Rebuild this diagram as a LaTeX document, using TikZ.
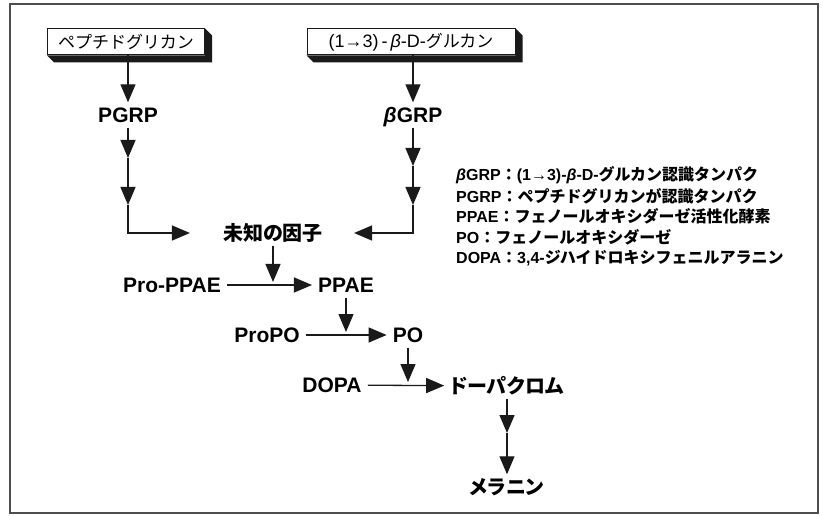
\documentclass[tikz,border=0pt]{standalone}
\usepackage{fontspec}
\setmainfont{Liberation Sans}
\newfontfamily\jp{Noto Sans CJK JP}
\newfontfamily\jpp{Noto Sans CJK JP}[RawFeature={+palt}]
\usepackage{tikz}
\usetikzlibrary{arrows.meta,positioning,calc}
\definecolor{ink}{HTML}{1A1A1A}
\definecolor{rim}{HTML}{4D4D4D}
\tikzset{
  srcbox/.style = {draw=ink,line width=1pt,fill=white,minimum height=26pt,
                   inner sep=0pt,font=\fontsize{17}{20}\selectfont},
  lbl/.style    = {inner xsep=6pt,inner ysep=5pt,text height=15pt,
                   text depth=0pt,font=\fontsize{21}{24}\selectfont\bfseries},
  jlbl/.style   = {lbl,font=\jpp\fontsize{20}{24}\selectfont\bfseries},
  keyline/.style= {anchor=west,inner sep=0pt,
                   font=\fontsize{16}{20}\selectfont\bfseries},
  arr/.style    = {-{Triangle[length=18pt,width=15pt]},line width=1.3pt,
                   draw=ink},
}

\begin{document}
\begin{tikzpicture}[x=1pt,y=-1pt]
  \useasboundingbox (0,0) rectangle (823,516);
  \draw[rim,line width=1.2pt] (10,4) rectangle (818,513);
  % Source boxes with block shadow
  \node[srcbox,minimum width=157pt] (pgbox) at (126,42)
        {\jp ペプチドグリカン};
  \node[srcbox,minimum width=208pt] (glbox) at (411,42)
        {\fontsize{18}{20}\selectfont(1→3)\,-\,\textit{β}-D-{\jp\fontsize{17}{20}\selectfont グルカン}};
  \foreach \b in {pgbox,glbox}{
    \fill[ink] (\b.north east) -- ++(7,7) -- ($(\b.south east)+(7,7)$)
               -- ($(\b.south west)+(7,7)$) -- (\b.south west)
               -- (\b.south east) -- cycle;
  }
  % Recognition proteins
  \node[lbl] (pgrp) at (128,115) {PGRP};
  \node[lbl] (bgrp) at (413,115) {\textit{β}GRP};
  \node[jlbl] (unk) at (273,233) {未知の因子};
  \coordinate (pgA) at (128,158);
  \coordinate (pgB) at (128,205);
  \coordinate (bgA) at (413,166);
  \coordinate (bgB) at (413,205);
  \draw[arr] (pgrp |- pgbox.south) -- (pgrp);
  \draw[arr] (bgrp |- glbox.south) -- (bgrp);
  \draw[arr] (pgrp) -- (pgA);
  \draw[arr] (pgA) -- (pgB);
  \draw[arr,shorten >=27pt] (pgB) |- (unk);
  \draw[arr] (bgrp) -- (bgA);
  \draw[arr] (bgA) -- (bgB);
  \draw[arr,shorten >=25pt] (bgB) |- (unk);
  % Cascade
  \node[lbl] (proppae) at (172,285) {Pro-PPAE};
  \node[lbl] (ppae) at (346,285) {PPAE};
  \node[lbl] (propo) at (267,335) {ProPO};
  \node[lbl] (po) at (408,335) {PO};
  \node[lbl] (dopa) at (332,385) {DOPA};
  \node[jlbl] (dopachrome) at (507,386) {ドーパクロム};
  \node[jlbl] (melanin) at (507,487) {メラニン};
  \coordinate (dcA) at (507,433);
  \draw[arr] (proppae) -- (ppae);
  \draw[arr,shorten >=3pt] (unk) -- (unk |- proppae);
  \draw[arr] (propo) -- (po);
  \draw[arr,shorten >=3pt] (ppae) -- (ppae |- propo);
  \draw[arr] (dopa) -- (dopachrome);
  \draw[arr,shorten >=3pt] (po) -- (po |- dopa);
  \draw[arr] (dopachrome) -- (dcA);
  \draw[arr] (dcA) -- (melanin);
  % Abbreviations
  \foreach \txt/\y [count=\i] in {
      {\textit{β}GRP{\jp ：}(1→3)-\textit{β}-D-{\jp グルカン認識タンパク}}/175,
      {PGRP{\jp ：ペプチドグリカンが認識タンパク}}/196,
      {PPAE{\jp ：フェノールオキシダーゼ活性化酵素}}/216,
      {PO{\jp ：フェノールオキシダーゼ}}/237,
      {DOPA{\jp ：}3,4-{\jp ジハイドロキシフェニルアラニン}}/258}{
    \node[keyline] (key\i) at (456,\y) {\txt};
  }
\end{tikzpicture}
\end{document}
